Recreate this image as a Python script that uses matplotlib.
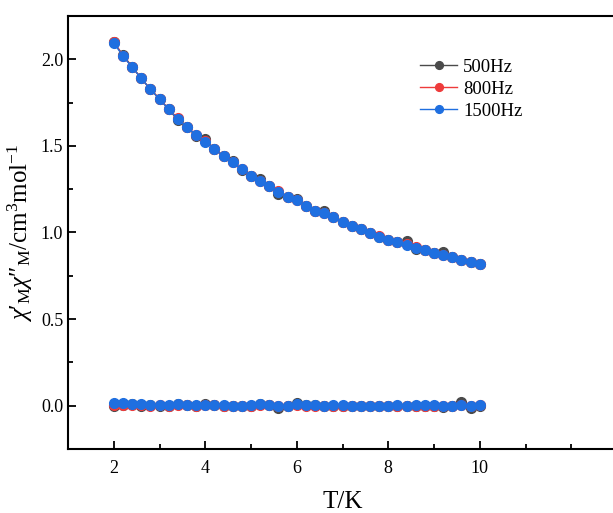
import numpy as np
import matplotlib
matplotlib.use("Agg")
import matplotlib.pyplot as plt
from matplotlib.ticker import MultipleLocator

plt.rcParams["font.family"] = ["Liberation Serif", "DejaVu Serif"]
plt.rcParams["mathtext.fontset"] = "custom"
plt.rcParams["mathtext.rm"] = "Liberation Serif"
plt.rcParams["mathtext.it"] = "Liberation Serif:italic"

# temperature grid, 2 K .. 10 K in 0.2 K steps
T = [2.0, 2.2, 2.4, 2.6, 2.8, 3.0, 3.2, 3.4, 3.6, 3.8, 4.0, 4.2, 4.4, 4.6,
     4.8, 5.0, 5.2, 5.4, 5.6, 5.8, 6.0, 6.2, 6.4, 6.6, 6.8, 7.0, 7.2, 7.4,
     7.6, 7.8, 8.0, 8.2, 8.4, 8.6, 8.8, 9.0, 9.2, 9.4, 9.6, 9.8, 10.0]

# chi' (in-phase) curves
chi1_500 = [2.098, 2.025, 1.958, 1.890, 1.827, 1.771, 1.712, 1.648, 1.607, 1.557,
            1.538, 1.480, 1.442, 1.412, 1.362, 1.328, 1.308, 1.268, 1.222, 1.207,
            1.195, 1.153, 1.126, 1.122, 1.088, 1.062, 1.037, 1.018, 0.995, 0.974,
            0.957, 0.943, 0.952, 0.905, 0.899, 0.884, 0.886, 0.857, 0.843, 0.828, 0.818]
chi1_800 = [2.102, 2.021, 1.955, 1.890, 1.827, 1.773, 1.712, 1.660, 1.607, 1.565,
            1.526, 1.480, 1.442, 1.407, 1.365, 1.328, 1.299, 1.268, 1.238, 1.207,
            1.190, 1.153, 1.126, 1.112, 1.088, 1.062, 1.037, 1.018, 0.995, 0.978,
            0.957, 0.945, 0.932, 0.914, 0.899, 0.884, 0.870, 0.857, 0.843, 0.828, 0.818]
chi1_1500 = [2.094, 2.019, 1.954, 1.890, 1.827, 1.769, 1.711, 1.655, 1.607, 1.563,
             1.524, 1.480, 1.442, 1.405, 1.365, 1.328, 1.297, 1.268, 1.236, 1.207,
             1.188, 1.153, 1.126, 1.111, 1.088, 1.062, 1.037, 1.018, 0.995, 0.976,
             0.957, 0.943, 0.928, 0.912, 0.899, 0.884, 0.870, 0.857, 0.843, 0.828, 0.818]

# chi'' (out-of-phase) curves
chi2_500 = [-0.003, 0.004, 0.008, -0.004, 0.002, 0.000, -0.002, 0.010, 0.003, -0.003,
            0.008, 0.002, 0.000, 0.001, -0.001, 0.001, 0.012, 0.004, -0.016, -0.004,
            0.014, 0.002, 0.003, 0.000, 0.000, 0.000, -0.003, -0.002, -0.003, 0.000,
            0.000, 0.001, 0.000, 0.001, 0.000, 0.000, -0.008, 0.000, 0.020, -0.012, 0.001]
chi2_800 = [0.006, 0.002, 0.003, 0.002, 0.001, 0.002, -0.001, 0.005, 0.003, 0.000,
            0.004, 0.002, 0.001, 0.000, -0.002, 0.001, 0.004, 0.002, -0.003, 0.000,
            0.004, 0.001, 0.001, -0.002, 0.000, 0.001, 0.000, 0.000, -0.001, 0.000,
            0.000, 0.000, -0.002, 0.000, 0.000, 0.001, 0.000, 0.000, 0.004, -0.004, 0.002]
chi2_1500 = [0.018, 0.013, 0.011, 0.007, 0.006, 0.004, 0.003, 0.010, 0.005, 0.004,
             0.006, 0.003, 0.002, 0.001, 0.001, 0.003, 0.007, 0.004, 0.000, 0.001,
             0.008, 0.003, 0.003, 0.001, 0.002, 0.002, 0.001, 0.001, 0.001, 0.001,
             0.001, 0.002, 0.001, 0.002, 0.002, 0.002, 0.001, 0.001, 0.006, 0.000, 0.002]

series = [
    ("500Hz", "#4a4a4a", chi1_500, chi2_500),
    ("800Hz", "#ee3b3b", chi1_800, chi2_800),
    ("1500Hz", "#1f6fe0", chi1_1500, chi2_1500),
]

fig = plt.figure(figsize=(6.13, 5.13), dpi=100)
ax = fig.add_axes([0.111, 0.1248, 0.8956, 0.844])

for name, col, c1, c2 in series:
    ax.plot(T, c1, "-o", color=col, lw=1.0, ms=7, mec=col, label=name)
    ax.plot(T, c2, "-o", color=col, lw=1.0, ms=7, mec=col)

ax.set_xlim(1, 13)
ax.set_ylim(-0.25, 2.25)
ax.set_xticks([2, 4, 6, 8, 10])
ax.xaxis.set_minor_locator(MultipleLocator(1))
ax.set_yticks([0.0, 0.5, 1.0, 1.5, 2.0])
ax.yaxis.set_minor_locator(MultipleLocator(0.25))
ax.yaxis.set_major_formatter(matplotlib.ticker.FormatStrFormatter("%.1f"))

ax.tick_params(which="both", direction="in", width=1.3, labelsize=13)
ax.tick_params(which="major", length=6)
ax.tick_params(which="minor", length=3.5)
ax.tick_params(axis="x", pad=8)
for s in ax.spines.values():
    s.set_linewidth(1.5)

ax.set_xlabel("T/K", fontsize=18, labelpad=10)
ax.set_ylabel("$\\chi$\u2032$_{\\rm M}$$\\chi$\u2033$_{\\rm M}$/cm$^3$mol$^{-1}$",
              fontsize=18, labelpad=4)

ax.legend(loc="upper left", bbox_to_anchor=(0.61, 0.94), frameon=False,
          fontsize=13.5, handlelength=2.0, handletextpad=0.3, labelspacing=0.25,
          markerscale=0.8)

fig.savefig("out.png", dpi=100)
